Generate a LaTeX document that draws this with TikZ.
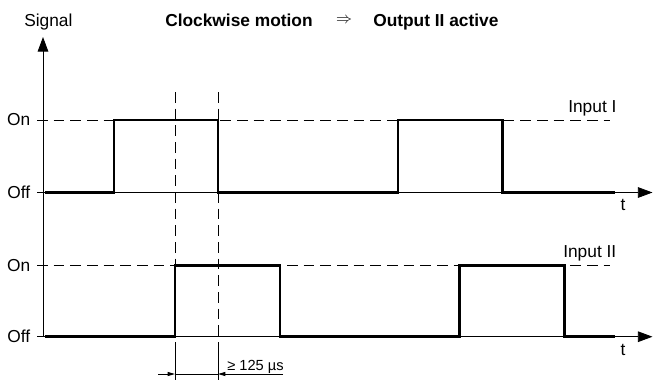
\documentclass[tikz,border=0pt]{standalone}
\usepackage{fontspec}
\setmainfont{Liberation Sans}
\usetikzlibrary{arrows.meta}

\begin{document}
\begin{tikzpicture}[x=0.75pt,y=-0.75pt,
	every node/.style={inner sep=0pt, font=\fontsize{13}{15}\selectfont},
	axis/.style={line width=0.65pt},
	sig/.style={line width=2pt},
	guide/.style={line width=0.65pt, dash pattern=on 8pt off 4.5pt},
	axtip/.style={-{Triangle[length=11pt,width=8pt]}},
	dimtip/.style={-{Triangle[length=5.5pt,width=3pt]}}]
	\useasboundingbox (0,0) rectangle (653,380);
	% title
		\node[anchor=base west] (signal) at (24,26.5) {Signal};
		\node[anchor=base west] (motion) at (165,26.5) {\bfseries Clockwise motion};
		\node (implies) at (344,20.5) {\fontsize{12}{14}\selectfont$\Rightarrow$};
		\node[anchor=base west] (output) at (373,26.5) {\bfseries Output II active};
	% axes
		\coordinate (Y0) at (43,337);
		\coordinate (Y1) at (43,37);
		\coordinate (A1) at (43,192.5);
		\coordinate (B1) at (652.5,192.5);
		\coordinate (A2) at (43,336.7);
		\coordinate (B2) at (652.5,336.7);
		\draw[axis,axtip] (Y0) -- (Y1);
		\draw[axis,axtip] (A1) -- (B1);
		\draw[axis,axtip] (A2) -- (B2);
		\draw[axis] (37,192.5) -- (A1);
		\draw[axis] (37,336.7) -- (A2);
		\node[anchor=east] (on1) at (30.5,120) {On};
		\node[anchor=east] (off1) at (30.5,192.5) {Off};
		\node[anchor=east] (on2) at (30.5,265.3) {On};
		\node[anchor=east] (off2) at (30.5,336.7) {Off};
		\node[anchor=base] (t1) at (623,210.5) {t};
		\node[anchor=base] (t2) at (623,355.5) {t};
	% on levels
		\draw[guide] (37,120) -- (610,120);
		\draw[guide] (37,265.3) -- (610,265.3);
		\node[anchor=base west] (in1) at (568,112.7) {Input I};
		\node[anchor=base west] (in2) at (563,257.3) {Input II};
	% signals
		\draw[sig] (45,192.5) -| (114,120) -| (218,192.5) -| (398,120) -| (502.7,192.5) -- (615,192.5);
		\draw[sig] (45,336.7) -| (175,265.3) -| (280,336.7) -| (459.3,265.3) -| (564.3,336.7) -- (615,336.7);
	% phase shift
		\draw[guide] (175,92) -- (175,345);
		\draw[guide] (218,92) -- (218,345);
		\draw[axis] (175,345) -- (175,380);
		\draw[axis] (218,345) -- (218,380);
		\coordinate (D1) at (175,374);
		\coordinate (D2) at (218,374);
		\draw[axis,dimtip] (158,374) -- (D1);
		\draw[axis] (D1) -- (D2);
		\draw[axis,dimtip] (283,374) -- (D2);
		\node[anchor=base west, font=\fontsize{11}{13}\selectfont] (delay) at (227,370) {≥ 125 µs};
	\end{tikzpicture}
\end{document}
